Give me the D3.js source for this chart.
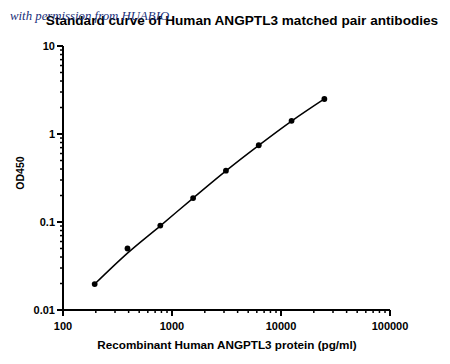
<!DOCTYPE html>
<html>
<head>
<meta charset="utf-8">
<script src="https://cdn.jsdelivr.net/npm/d3@7"></script>
<style>
  body { margin: 0; background: #fff; }
  svg text { font-family: "Liberation Sans", Arial, sans-serif; }
</style>
</head>
<body>
<svg id="chart" width="450" height="364"></svg>
<script>
// Standard curve data
const concentrations = [195.3, 390.6, 781.25, 1562.5, 3125, 6250, 12500, 25000];
const od450 = [0.0197, 0.05, 0.091, 0.187, 0.383, 0.745, 1.41, 2.5];

// Fitted curve
const fitConc = [195.3, 390.6, 781.25, 1562.5, 3125, 6250, 12500, 25000];
const fitOd = [0.0197, 0.0443, 0.0905, 0.187, 0.381, 0.742, 1.4, 2.5];

const xTickValues = [100, 1000, 10000, 100000];
const yTickValues = [0.01, 0.1, 1, 10];

const titleText = "Standard curve of Human ANGPTL3 matched pair antibodies";
const xLabel = "Recombinant Human ANGPTL3 protein (pg/ml)";
const yLabel = "OD450";
const watermark = "with permission from HUABIO";

const svg = d3.select("#chart");

const x = d3.scaleLog().domain([100, 100000]).range([63, 390]);
const y = d3.scaleLog().domain([0.01, 10]).range([310, 46]);

// minor ticks: 2..9 of each decade
function minorTicks(lo, hi) {
    let out = [];
    for (let d = lo; d < hi; d *= 10) {
        for (let k = 2; k <= 9; k++) out.push(d * k);
    }
    return out;
}

// Y axis
const gy = svg.append("g").attr("transform", "translate(63,0)");
gy.append("line")
    .attr("y1", y(10)).attr("y2", y(0.01) + 1)
    .attr("stroke", "#000").attr("stroke-width", 2);
gy.selectAll("line.minor")
    .data(minorTicks(0.01, 10))
    .enter().append("line")
    .attr("class", "minor")
    .attr("x1", -3).attr("x2", 0)
    .attr("y1", d => y(d)).attr("y2", d => y(d))
    .attr("stroke", "#000").attr("stroke-width", 1.5);
gy.selectAll("line.major")
    .data(yTickValues)
    .enter().append("line")
    .attr("class", "major")
    .attr("x1", -6).attr("x2", 0)
    .attr("y1", d => y(d)).attr("y2", d => y(d))
    .attr("stroke", "#000").attr("stroke-width", 2);
gy.selectAll("text")
    .data(yTickValues)
    .enter().append("text")
    .attr("x", -8).attr("y", d => y(d))
    .attr("dy", "0.36em")
    .attr("text-anchor", "end")
    .attr("font-size", 11).attr("font-weight", "bold")
    .text(d => d3.format("~g")(d));

// X axis
const gx = svg.append("g").attr("transform", "translate(0,310)");
gx.append("line")
    .attr("x1", x(100) - 1).attr("x2", x(100000))
    .attr("stroke", "#000").attr("stroke-width", 2);
gx.selectAll("line.minor")
    .data(minorTicks(100, 100000))
    .enter().append("line")
    .attr("class", "minor")
    .attr("x1", d => x(d)).attr("x2", d => x(d))
    .attr("y1", 0).attr("y2", 3)
    .attr("stroke", "#000").attr("stroke-width", 1.5);
gx.selectAll("line.major")
    .data(xTickValues)
    .enter().append("line")
    .attr("class", "major")
    .attr("x1", d => x(d)).attr("x2", d => x(d))
    .attr("y1", 0).attr("y2", 6)
    .attr("stroke", "#000").attr("stroke-width", 2);
gx.selectAll("text")
    .data(xTickValues)
    .enter().append("text")
    .attr("x", d => x(d)).attr("y", 20)
    .attr("text-anchor", "middle")
    .attr("font-size", 11).attr("font-weight", "bold")
    .text(d => d);

// Fitted line
const fit = fitConc.map((c, i) => [c, fitOd[i]]);
svg.append("path")
    .datum(fit)
    .attr("fill", "none")
    .attr("stroke", "#000")
    .attr("stroke-width", 1.5)
    .attr("d", d3.line()
        .x(d => x(d[0]))
        .y(d => y(d[1]))
        .curve(d3.curveCatmullRom));

// Data points
svg.append("g")
    .selectAll("circle")
    .data(concentrations)
    .enter().append("circle")
    .attr("cx", d => x(d))
    .attr("cy", (d, i) => y(od450[i]))
    .attr("r", 2.9)
    .attr("fill", "#000");

// Labels
svg.append("text")
    .attr("x", 242).attr("y", 25)
    .attr("text-anchor", "middle")
    .attr("font-size", 13.6).attr("font-weight", "bold")
    .text(titleText);

svg.append("text")
    .attr("x", 227).attr("y", 349)
    .attr("text-anchor", "middle")
    .attr("font-size", 11.7).attr("font-weight", "bold")
    .text(xLabel);

svg.append("text")
    .attr("transform", "translate(24,173) rotate(-90)")
    .attr("text-anchor", "middle")
    .attr("font-size", 10.5).attr("font-weight", "bold")
    .text(yLabel);

svg.append("text")
    .attr("x", 10).attr("y", 20)
    .style("font-family", "'Liberation Serif', serif")
    .attr("font-style", "italic")
    .attr("font-size", 12.8)
    .attr("fill", "#1a2f7a")
    .text(watermark);
</script>
</body>
</html>
